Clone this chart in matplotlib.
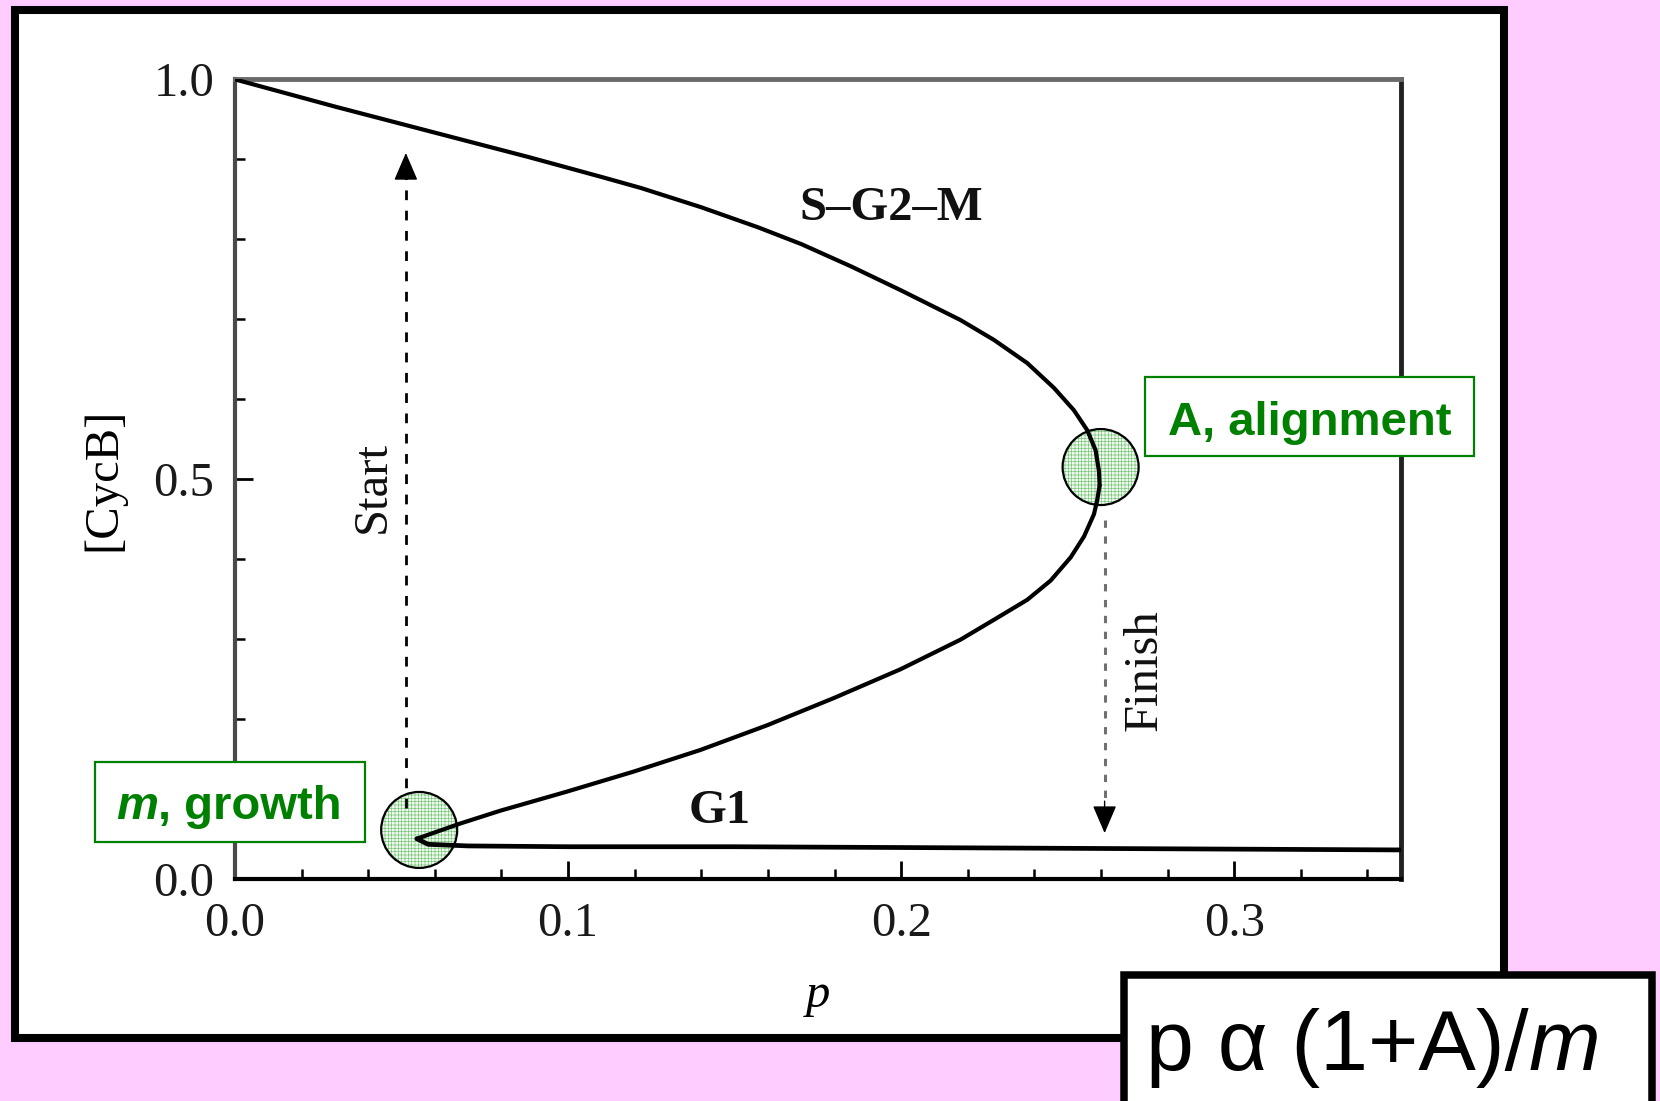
import matplotlib.pyplot as plt
from matplotlib.patches import Rectangle, Ellipse
from matplotlib.ticker import MultipleLocator

W, H = 1660, 1101

# S-G2-M branch (high CycB), from p = 0 out to the fold
p_upper = [0.000, 0.030, 0.053, 0.088, 0.110, 0.122, 0.140, 0.157, 0.170,
           0.185, 0.200, 0.2178, 0.2279, 0.2379, 0.2459, 0.2519, 0.2559,
           0.2584, 0.2594, 0.2596]
cycb_upper = [1.000, 0.966, 0.941, 0.903, 0.878, 0.864, 0.840, 0.815, 0.794,
              0.766, 0.736, 0.699, 0.674, 0.645, 0.614, 0.586, 0.561,
              0.536, 0.510, 0.492]

# unstable middle branch, from the fold back to the G1 knee
p_middle = [0.2596, 0.2589, 0.2579, 0.2549, 0.2509, 0.2449, 0.2379, 0.2279,
            0.2178, 0.1998, 0.1798, 0.1598, 0.1397, 0.1197, 0.0997, 0.0796,
            0.0676, 0.0546]
cycb_middle = [0.492, 0.474, 0.456, 0.428, 0.402, 0.373, 0.349, 0.324,
               0.299, 0.262, 0.226, 0.192, 0.161, 0.134, 0.109, 0.085,
               0.069, 0.050]

# G1 branch (low CycB)
p_lower = [0.0546, 0.0580, 0.070, 0.100, 0.150, 0.200, 0.250, 0.300, 0.350]
cycb_lower = [0.050, 0.043, 0.041, 0.040, 0.040, 0.039, 0.038, 0.037, 0.036]

# transitions
start_p = 0.0513
start_cycb = [0.088, 0.908]
finish_p = 0.2611
finish_cycb = [0.449, 0.057]

# growth and alignment points
growth_pt = (0.0553, 0.061)
align_pt = (0.2599, 0.515)

xticks = [0.0, 0.1, 0.2, 0.3]
xtick_labels = ['0.0', '0.1', '0.2', '0.3']
yticks = [0.0, 0.5, 1.0]
ytick_labels = ['0.0', '0.5', '1.0']

serif = 'Liberation Serif'
sans = 'Liberation Sans'
green = '#008000'
plt.rcParams['hatch.linewidth'] = 0.45

fig = plt.figure(figsize=(W / 100, H / 100), dpi=100)
fig.patch.set_facecolor('#ffccff')


def pixel_axes(z, name):
    a = fig.add_axes([0, 0, 1, 1], zorder=z, label=name)
    a.set_xlim(0, W)
    a.set_ylim(H, 0)
    a.axis('off')
    a.patch.set_alpha(0)
    return a


back = pixel_axes(0, 'back')
back.add_patch(Rectangle((15, 10), 1489, 1028, fc='white', ec='black', lw=5.8))

# main diagram
ax_l, ax_r, ax_t, ax_b = 235, 1400.7, 79.4, 878.7
ax = fig.add_axes([ax_l / W, 1 - ax_b / H, (ax_r - ax_l) / W, (ax_b - ax_t) / H],
                  zorder=1, label='main')
ax.set_xlim(0, 0.35)
ax.set_ylim(0, 1)

curve_style = dict(color='black', lw=3, zorder=3, solid_capstyle='round',
                   solid_joinstyle='round')
ax.plot(p_upper, cycb_upper, **curve_style)
ax.plot(p_middle, cycb_middle, **curve_style)
ax.plot(p_lower, cycb_lower, **{**curve_style, 'lw': 3.4})

# Start / Finish arrows
ax.plot([start_p, start_p], [start_cycb[0], start_cycb[1] - 0.03], color='black',
        lw=2, dashes=(3.5, 3.8), zorder=4)
ax.annotate('', xy=(start_p, start_cycb[1]), xytext=(start_p, start_cycb[1] - 0.033),
            arrowprops=dict(arrowstyle='-|>,head_length=0.7,head_width=0.3',
                            color='black', lw=1, mutation_scale=25,
                            shrinkA=0, shrinkB=0), zorder=4)
ax.plot([finish_p, finish_p], [finish_cycb[0], finish_cycb[1] + 0.035], color='#707070',
        lw=2.2, dashes=(2.4, 2.8), zorder=4)
ax.annotate('', xy=(finish_p, finish_cycb[1]), xytext=(finish_p, finish_cycb[1] + 0.04),
            arrowprops=dict(arrowstyle='-|>,head_length=0.7,head_width=0.3',
                            color='black', lw=1, mutation_scale=25,
                            shrinkA=0, shrinkB=0), zorder=4)

# highlighted circles
r_px = 38
cw = 2 * r_px / (ax_r - ax_l) * 0.35
ch = 2 * r_px / (ax_b - ax_t) * 1.0
for cx, cy in [growth_pt, align_pt]:
    ax.add_patch(Ellipse((cx, cy), cw, ch, fc='#eef8ee', ec='#72c272', hatch='+++++',
                         lw=0, zorder=2))
    ax.add_patch(Ellipse((cx, cy), cw, ch, fill=False, ec='black', lw=1.6, zorder=5))

ax.text(0.197, 0.824, 'S–G2–M', family=serif, weight='bold', fontsize=35,
        ha='center', va='baseline', color='#111111')
ax.text(0.1454, 0.070, 'G1', family=serif, weight='bold', fontsize=35,
        ha='center', va='baseline', color='#111111')
ax.text(0.0413, 0.490, 'Start', family=serif, fontsize=35, rotation=90,
        ha='center', va='center', color='#111111')
ax.text(0.2731, 0.2605, 'Finish', family=serif, fontsize=35, rotation=90,
        ha='center', va='center', color='#111111')

ax.set_xticks(xticks)
ax.set_xticklabels(xtick_labels)
ax.set_yticks(yticks)
ax.set_yticklabels(ytick_labels)
ax.xaxis.set_minor_locator(MultipleLocator(0.02))
ax.yaxis.set_minor_locator(MultipleLocator(0.1))
ax.tick_params(which='both', direction='in', top=False, right=False,
               labelsize=35, labelcolor='#1a1a1a')
ax.tick_params(which='major', length=13, width=2)
ax.tick_params(which='minor', length=7, width=1.8)
ax.tick_params(axis='x', which='major', pad=17)
ax.tick_params(axis='y', which='major', pad=15)
for lab in ax.get_xticklabels() + ax.get_yticklabels():
    lab.set_family(serif)

ax.set_xlabel('p', family=serif, style='italic', fontsize=35, labelpad=19)
ax.set_ylabel('[CycB]', family=serif, fontsize=35, labelpad=20)

ax.spines['left'].set(color='#4a4a4a', lw=3)
ax.spines['bottom'].set(color='black', lw=3)
ax.spines['top'].set(color='#6a6a6a', lw=3.5)
ax.spines['right'].set(color='#222222', lw=3.5)

# labels and formula on top
front = pixel_axes(2, 'front')
front.add_patch(Rectangle((1145, 377), 329, 79, fc='white', ec=green, lw=1.6))
front.text(1310, 435, 'A, alignment', family=sans, weight='bold', fontsize=34,
           color=green, ha='center', va='baseline')

front.add_patch(Rectangle((95, 762), 270, 80, fc='white', ec=green, lw=1.6))
m1 = front.text(116, 819, 'm', family=sans, weight='bold', style='italic',
                fontsize=34, color=green, ha='left', va='baseline')
front.annotate(', growth', xy=(1, 0), xycoords=m1, family=sans, weight='bold',
               fontsize=34, color=green, ha='left', va='bottom')

front.add_patch(Rectangle((1123.5, 974.5), 528, 140, fc='white', ec='black',
                          lw=5.4, clip_on=False))
f1 = front.text(1146, 1070, 'p α (1+A)/', family=sans, fontsize=62, color='black',
                ha='left', va='baseline')
front.annotate('m', xy=(1, 0), xycoords=f1, family=sans, style='italic',
               fontsize=62, color='black', ha='left', va='bottom')

fig.savefig('out.png', dpi=100, facecolor=fig.get_facecolor())
